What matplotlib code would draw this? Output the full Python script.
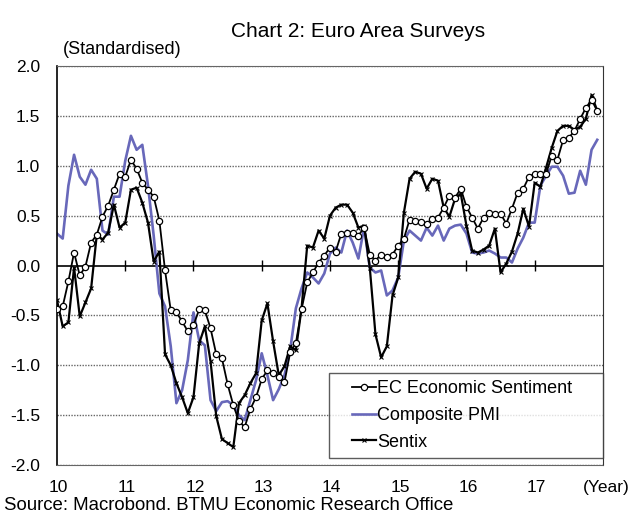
import numpy as np
import matplotlib
matplotlib.use("Agg")
import matplotlib.pyplot as plt
from matplotlib.legend_handler import HandlerLine2D

plt.rcParams["font.family"] = ["Liberation Sans", "DejaVu Sans"]

# Monthly readings, Jan 2010 - Dec 2017 (standardised)
ec_sentiment = [
    -0.44, -0.41, -0.16, 0.13, -0.10, -0.01, 0.23, 0.31, 0.49, 0.60, 0.76, 0.92,
    0.89, 1.06, 0.97, 0.83, 0.76, 0.69, 0.45, -0.05, -0.45, -0.47, -0.56, -0.66,
    -0.60, -0.44, -0.45, -0.63, -0.89, -0.93, -1.19, -1.40, -1.56, -1.62, -1.44, -1.32,
    -1.14, -1.05, -1.08, -1.12, -1.17, -0.87, -0.78, -0.44, -0.17, -0.07, 0.03, 0.10,
    0.18, 0.14, 0.32, 0.33, 0.33, 0.30, 0.38, 0.11, 0.05, 0.11, 0.09, 0.11,
    0.20, 0.27, 0.46, 0.45, 0.44, 0.42, 0.47, 0.48, 0.58, 0.70, 0.68, 0.77,
    0.59, 0.48, 0.37, 0.48, 0.53, 0.52, 0.52, 0.42, 0.57, 0.73, 0.77, 0.89,
    0.92, 0.92, 0.92, 1.10, 1.06, 1.26, 1.28, 1.35, 1.47, 1.58, 1.66, 1.55,
]
composite_pmi = [
    0.32, 0.27, 0.80, 1.11, 0.89, 0.81, 0.96, 0.87, 0.35, 0.31, 0.69, 0.69,
    1.05, 1.30, 1.16, 1.21, 0.80, 0.30, -0.28, -0.41, -0.81, -1.38, -1.25, -0.95,
    -0.47, -0.75, -0.80, -1.35, -1.46, -1.37, -1.36, -1.40, -1.50, -1.55, -1.35, -1.15,
    -0.88, -1.10, -1.35, -1.24, -1.10, -0.85, -0.43, -0.23, -0.07, -0.12, -0.18, -0.08,
    0.12, 0.18, 0.13, 0.35, 0.23, 0.07, 0.38, -0.02, -0.07, -0.05, -0.30, -0.25,
    -0.12, 0.25, 0.35, 0.30, 0.25, 0.38, 0.30, 0.40, 0.25, 0.37, 0.40, 0.41,
    0.32, 0.13, 0.12, 0.13, 0.15, 0.12, 0.08, 0.08, 0.03, 0.17, 0.28, 0.43,
    0.43, 0.80, 0.90, 0.99, 0.99, 0.90, 0.72, 0.73, 0.95, 0.81, 1.16, 1.26,
]
sentix = [
    -0.35, -0.61, -0.57, -0.02, -0.51, -0.37, -0.23, 0.31, 0.26, 0.33, 0.61, 0.38,
    0.43, 0.76, 0.78, 0.63, 0.43, 0.04, 0.14, -0.89, -1.00, -1.18, -1.32, -1.48,
    -1.32, -0.78, -0.61, -0.96, -1.51, -1.74, -1.78, -1.82, -1.38, -1.30, -1.18, -1.08,
    -0.55, -0.38, -0.76, -1.10, -1.01, -0.81, -0.85, -0.43, 0.20, 0.18, 0.35, 0.27,
    0.50, 0.58, 0.61, 0.61, 0.53, 0.38, 0.40, -0.02, -0.69, -0.92, -0.81, -0.30,
    -0.12, 0.53, 0.87, 0.94, 0.92, 0.77, 0.87, 0.85, 0.58, 0.49, 0.67, 0.72,
    0.40, 0.15, 0.13, 0.16, 0.20, 0.37, -0.07, 0.02, 0.14, 0.32, 0.57, 0.39,
    0.83, 0.79, 0.98, 1.18, 1.35, 1.40, 1.40, 1.36, 1.39, 1.47, 1.71, 1.55,
]
year_labels = ["10", "11", "12", "13", "14", "15", "16", "17"]
y_ticks = [2.0, 1.5, 1.0, 0.5, 0.0, -0.5, -1.0, -1.5, -2.0]

months = np.arange(len(ec_sentiment))
year_pos = np.arange(len(year_labels)) * 12

fig = plt.figure(figsize=(6.32, 5.14), dpi=100)
ax = fig.add_axes([0.0902, 0.0953, 0.8638, 0.7763])

# ── gridlines ──
for v in y_ticks:
    if v == 0.0:
        ax.axhline(v, color="black", lw=1.2, zorder=1)
    else:
        ax.axhline(v, color="#666666", lw=1.0, ls=(0, (1, 1)), zorder=1)

# year tick marks sit on the zero line
ax.vlines(year_pos[1:], -0.055, 0.055, color="black", lw=1.0, zorder=1)

pmi_line, = ax.plot(months, composite_pmi, color="#6868BA", lw=1.9, zorder=2,
                    label="Composite PMI")
sentix_line, = ax.plot(months, sentix, color="black", lw=1.6, marker="x",
                       markersize=3, markeredgewidth=0.8, zorder=3, label="Sentix")
ec_line, = ax.plot(months, ec_sentiment, color="black", lw=1.3, marker="o",
                   markersize=4.5, markerfacecolor="white", markeredgecolor="black",
                   markeredgewidth=0.9, zorder=4, label="EC Economic Sentiment")

ax.set_xlim(0, 96)
ax.set_ylim(-2.0, 2.0)
ax.set_xticks([])
ax.set_yticks(y_ticks)
ax.set_yticklabels([f"{v:.1f}" for v in y_ticks], fontsize=12.5)
ax.tick_params(axis="y", length=0, pad=12)

for side in ("top", "bottom"):
    ax.spines[side].set_linestyle((0, (1, 1)))
    ax.spines[side].set_color("#666666")
ax.spines["left"].set_color("black")
ax.spines["left"].set_linewidth(1.2)
ax.spines["right"].set_color("#333333")

for pos, lab in zip(year_pos, year_labels):
    ax.text(pos + 0.3, -2.23, lab, ha="center", va="center", fontsize=12.5,
            clip_on=False)
ax.text(96.6, -2.23, "(Year)", ha="center", va="center", fontsize=12.5,
        clip_on=False)

# handles are indented inside a wide legend box
pad_handler = HandlerLine2D(xpad=0.87)
leg = ax.legend(handles=[ec_line, pmi_line, sentix_line], loc="lower left",
                bbox_to_anchor=(0.498, 0.0175, 0.502, 0.213), mode="expand",
                borderaxespad=0, fontsize=13, frameon=True, fancybox=False,
                edgecolor="#333333", handlelength=2.2, handletextpad=0.05,
                borderpad=0.4, labelspacing=0.55, numpoints=1,
                handler_map={ec_line: pad_handler, pmi_line: pad_handler,
                             sentix_line: pad_handler})
leg.get_frame().set_linewidth(1.0)
leg.set_zorder(5)

fig.text(0.566, 0.938, "Chart 2: Euro Area Surveys", ha="center", va="center",
         fontsize=15)
fig.text(0.0995, 0.903, "(Standardised)", ha="left", va="center", fontsize=13)
fig.text(0.006, 0.016, "Source: Macrobond. BTMU Economic Research Office",
         ha="left", va="center", fontsize=13.4)

fig.savefig("out.png", dpi=100)
